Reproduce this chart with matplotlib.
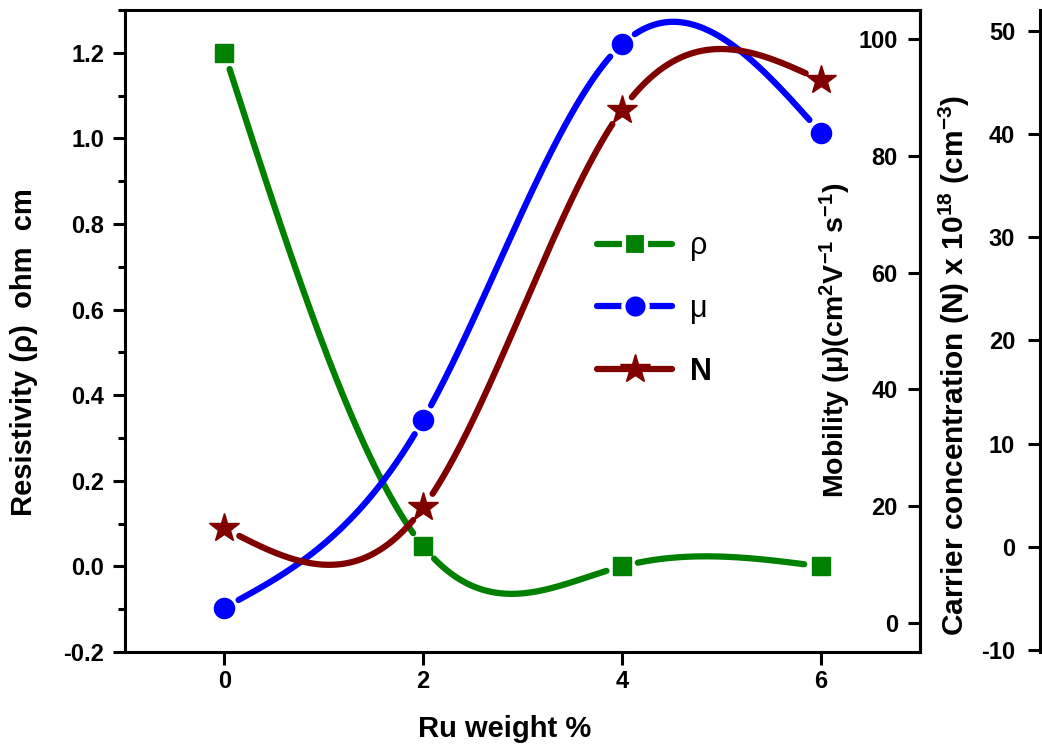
import numpy as np
import matplotlib
matplotlib.use("Agg")
import matplotlib.pyplot as plt
from matplotlib.lines import Line2D
from matplotlib.ticker import MultipleLocator

# data
ru_weight = [0, 2, 4, 6]
resistivity = [1.20, 0.047, 0.0, 0.0]       # ohm cm
mobility = [2.6, 34.8, 99.1, 84.0]           # cm2 V-1 s-1
carrier = [1.8, 3.8, 42.3, 45.2]             # x 10^18 cm-3

x_ticks = [0, 2, 4, 6]
rho_ticks = [-0.2, 0.0, 0.2, 0.4, 0.6, 0.8, 1.0, 1.2]
mu_ticks = [0, 20, 40, 60, 80, 100]
n_ticks = [-10, 0, 10, 20, 30, 40, 50]

GREEN = "#008000"
BLUE = "#0000ff"
MAROON = "#800000"

plt.rcParams["font.family"] = ["Liberation Sans", "DejaVu Sans"]
plt.rcParams["font.weight"] = "bold"
plt.rcParams["axes.labelweight"] = "bold"
plt.rcParams["axes.unicode_minus"] = False
plt.rcParams["mathtext.fontset"] = "custom"
plt.rcParams["mathtext.rm"] = "Liberation Sans:bold"
plt.rcParams["mathtext.it"] = "Liberation Sans:bold"
plt.rcParams["mathtext.bf"] = "Liberation Sans:bold"
plt.rcParams["mathtext.default"] = "rm"


def natural_spline(x, y, xs):
    """Natural cubic spline through (x, y), evaluated at xs."""
    x = np.asarray(x, float)
    y = np.asarray(y, float)
    n = len(x)
    h = np.diff(x)
    A = np.zeros((n, n))
    b = np.zeros(n)
    A[0, 0] = A[-1, -1] = 1.0
    for i in range(1, n - 1):
        A[i, i - 1] = h[i - 1]
        A[i, i] = 2 * (h[i - 1] + h[i])
        A[i, i + 1] = h[i]
        b[i] = 3 * ((y[i + 1] - y[i]) / h[i] - (y[i] - y[i - 1]) / h[i - 1])
    c = np.linalg.solve(A, b)
    bb = (y[1:] - y[:-1]) / h - h * (2 * c[:-1] + c[1:]) / 3
    d = (c[1:] - c[:-1]) / (3 * h)
    idx = np.clip(np.searchsorted(x, xs) - 1, 0, n - 2)
    t = xs - x[idx]
    return y[idx] + bb[idx] * t + c[idx] * t ** 2 + d[idx] * t ** 3


def gapped_curve(axis, xd, yd, r=16):
    """Spline curve with gaps cut round each marker (pixels)."""
    xs = np.linspace(xd[0], xd[-1], 800)
    ys = natural_spline(xd, yd, xs)
    pts = axis.transData.transform(np.column_stack([xs, ys]))
    mk = axis.transData.transform(np.column_stack([xd, yd]))
    dist = np.hypot(pts[:, None, 0] - mk[None, :, 0],
                    pts[:, None, 1] - mk[None, :, 1]).min(axis=1)
    ys[dist < r] = np.nan
    return xs, ys


fig = plt.figure(figsize=(10.42, 7.55), dpi=100)
ax = fig.add_axes([125 / 1042, 1 - 652 / 755, 795 / 1042, 642 / 755])
ax2 = ax.twinx()
ax3 = ax.twinx()

ax.set_xlim(-1, 7)
ax.set_ylim(-0.2, 1.3)
ax2.set_ylim(-5, 105)
ax3.set_ylim(-10.2, 52)

# main axis
for s in ax.spines.values():
    s.set_linewidth(2.2)
ax.set_xticks(x_ticks)
ax.set_yticks(rho_ticks)
ax.yaxis.set_minor_locator(MultipleLocator(0.1))
ax.yaxis.set_major_formatter(plt.FormatStrFormatter("%.1f"))
ax.tick_params(axis="both", which="major", length=9, width=2.2, labelsize=17)
ax.tick_params(axis="y", which="major", pad=6)
ax.tick_params(axis="x", which="major", pad=4)
ax.tick_params(axis="y", which="minor", length=5, width=2.2)
ax.set_xlabel("Ru weight %", fontsize=21)
ax.xaxis.set_label_coords(0.478, -0.098)
ax.set_ylabel("Resistivity (\u03c1)  ohm  cm", fontsize=21)
ax.yaxis.set_label_coords(-0.11, 0.467)

# mobility axis, ticks and labels left of the right frame
for s in ax2.spines.values():
    s.set_visible(False)
ax2.spines["left"].set_visible(True)
ax2.spines["left"].set_position(("axes", 1.0))
ax2.spines["left"].set_linewidth(2.2)
ax2.yaxis.tick_left()
ax2.yaxis.set_label_position("left")
ax2.set_yticks(mu_ticks)
ax2.tick_params(axis="y", length=9, width=2.2, labelsize=17, pad=7)
ax2.set_ylabel("Mobility (\u03bc)(cm$^{2}$V$^{-1}$ s$^{-1}$)", fontsize=20.5)
ax2.yaxis.set_label_coords((853 - 125) / 795, 0.486)

# carrier concentration axis, further right
for s in ax3.spines.values():
    s.set_visible(False)
ax3.spines["left"].set_visible(True)
ax3.spines["left"].set_position(("axes", 915 / 795))
ax3.spines["left"].set_linewidth(2.2)
ax3.yaxis.tick_left()
ax3.yaxis.set_label_position("left")
ax3.set_yticks(n_ticks)
ax3.tick_params(axis="y", length=9, width=2.2, labelsize=17, pad=9)
ax3.set_ylabel("Carrier concentration (N) x 10$^{18}$ (cm$^{-3}$)",
               fontsize=21.5)
ax3.yaxis.set_label_coords((972 - 125) / 795, 0.447)

# curves with gaps round the markers, then markers
series = [
    (ax, resistivity, GREEN, "s", 13),
    (ax2, mobility, BLUE, "o", 14.5),
    (ax3, carrier, MAROON, "*", 22),
]
for axis, vals, col, mk, ms in series:
    xs, ys = gapped_curve(axis, ru_weight, vals)
    axis.plot(xs, ys, color=col, lw=4.5, solid_capstyle="round")
    axis.plot(ru_weight, vals, ls="none", marker=mk, ms=ms,
              color=col, mec=col)

handles = [
    Line2D([], [], color=GREEN, lw=4.5, marker="s", ms=16, mfc=GREEN,
           mec="white", mew=3, solid_capstyle="round"),
    Line2D([], [], color=BLUE, lw=4.5, marker="o", ms=17.5, mfc=BLUE,
           mec="white", mew=3, solid_capstyle="round"),
    Line2D([], [], color=MAROON, lw=4.5, marker="*", ms=22, mfc=MAROON,
           mec=MAROON, solid_capstyle="round"),
]
leg = ax3.legend(handles, ["\u03c1", "\u03bc", "N"], loc="upper left",
                 bbox_to_anchor=(0.594, 0.655), frameon=False,
                 fontsize=22, handlelength=2.45, handletextpad=0.6,
                 labelspacing=1.07, borderpad=0, borderaxespad=0)
for t in leg.get_texts()[:2]:
    t.set_fontweight("normal")

fig.savefig("out.png", dpi=100)
